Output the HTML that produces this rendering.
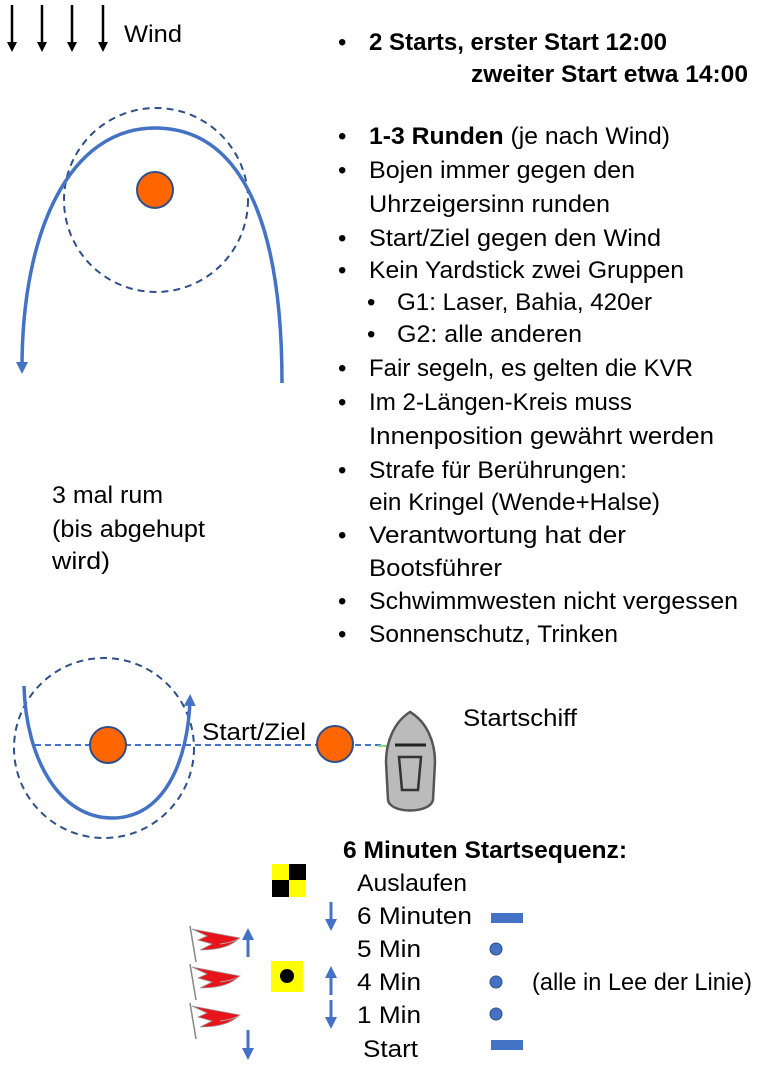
<!DOCTYPE html>
<html><head><meta charset="utf-8"><style>
body{margin:0;background:#fff}
svg{display:block}
text{font-family:"Liberation Sans",sans-serif;font-size:24px;fill:#000}
.b{font-weight:bold}
</style></head><body>
<svg width="782" height="1080" viewBox="0 0 782 1080" xmlns="http://www.w3.org/2000/svg">
<defs>
<marker id="ab" markerWidth="10" markerHeight="10" refX="5" refY="5" orient="auto" markerUnits="userSpaceOnUse"><path d="M0,0 L10,5 L0,10 z" fill="#000"/></marker>
<marker id="ah" markerWidth="12" markerHeight="12" refX="6" refY="6" orient="auto" markerUnits="userSpaceOnUse"><path d="M0,0 L12,6 L0,12 z" fill="#4472c4"/></marker>
</defs>
<g stroke="#000" stroke-width="2.5">
<line x1="12" y1="5" x2="12" y2="47" marker-end="url(#ab)"/>
<line x1="42" y1="5" x2="42" y2="47" marker-end="url(#ab)"/>
<line x1="72" y1="5" x2="72" y2="47" marker-end="url(#ab)"/>
<line x1="103" y1="5" x2="103" y2="47" marker-end="url(#ab)"/>
</g>
<text x="124" y="42" textLength="58" lengthAdjust="spacingAndGlyphs">Wind</text>
<circle cx="156" cy="200" r="92" fill="none" stroke="#2f4f8a" stroke-width="2" stroke-dasharray="7,5"/>
<circle cx="155" cy="190" r="18" fill="#ff6600" stroke="#2f4f8a" stroke-width="2"/>
<path d="M282,383 C282,210 235,128 155,128 C70,128 22,230 22,368" fill="none" stroke="#4472c4" stroke-width="3.5" marker-end="url(#ah)"/>
<text x="52" y="503" textLength="111" lengthAdjust="spacingAndGlyphs">3 mal rum</text>
<text x="52" y="537" textLength="153" lengthAdjust="spacingAndGlyphs">(bis abgehupt</text>
<text x="52" y="569" textLength="58" lengthAdjust="spacingAndGlyphs">wird)</text>
<g>
<text x="338" y="50">•</text><text x="369" y="50" class="b" textLength="298" lengthAdjust="spacingAndGlyphs">2 Starts, erster Start 12:00</text>
<text x="471" y="82" class="b" textLength="277" lengthAdjust="spacingAndGlyphs">zweiter Start etwa 14:00</text>
<text x="338" y="144">•</text><text x="369" y="144" textLength="301" lengthAdjust="spacingAndGlyphs"><tspan class="b">1-3 Runden</tspan> (je nach Wind)</text>
<text x="338" y="178">•</text><text x="369" y="178" textLength="266" lengthAdjust="spacingAndGlyphs">Bojen immer gegen den</text>
<text x="369" y="212" textLength="241" lengthAdjust="spacingAndGlyphs">Uhrzeigersinn runden</text>
<text x="338" y="246">•</text><text x="369" y="246" textLength="292" lengthAdjust="spacingAndGlyphs">Start/Ziel gegen den Wind</text>
<text x="338" y="278">•</text><text x="369" y="278" textLength="315" lengthAdjust="spacingAndGlyphs">Kein Yardstick zwei Gruppen</text>
<text x="367" y="310">•</text><text x="397" y="310" textLength="255" lengthAdjust="spacingAndGlyphs">G1: Laser, Bahia, 420er</text>
<text x="367" y="342">•</text><text x="397" y="342" textLength="185" lengthAdjust="spacingAndGlyphs">G2: alle anderen</text>
<text x="338" y="376">•</text><text x="369" y="376" textLength="324" lengthAdjust="spacingAndGlyphs">Fair segeln, es gelten die KVR</text>
<text x="338" y="410">•</text><text x="369" y="410" textLength="263" lengthAdjust="spacingAndGlyphs">Im 2-Längen-Kreis muss</text>
<text x="369" y="444" textLength="345" lengthAdjust="spacingAndGlyphs">Innenposition gewährt werden</text>
<text x="338" y="478">•</text><text x="369" y="478" textLength="258" lengthAdjust="spacingAndGlyphs">Strafe für Berührungen:</text>
<text x="369" y="510" textLength="291" lengthAdjust="spacingAndGlyphs">ein Kringel (Wende+Halse)</text>
<text x="338" y="543">•</text><text x="369" y="543" textLength="257" lengthAdjust="spacingAndGlyphs">Verantwortung hat der</text>
<text x="369" y="576" textLength="133" lengthAdjust="spacingAndGlyphs">Bootsführer</text>
<text x="338" y="609">•</text><text x="369" y="609" textLength="369" lengthAdjust="spacingAndGlyphs">Schwimmwesten nicht vergessen</text>
<text x="338" y="642">•</text><text x="369" y="642" textLength="249" lengthAdjust="spacingAndGlyphs">Sonnenschutz, Trinken</text>
</g>
<circle cx="104" cy="748" r="90" fill="none" stroke="#2f4f8a" stroke-width="2" stroke-dasharray="7,5"/>
<line x1="35" y1="745" x2="385" y2="745" stroke="#4472c4" stroke-width="2" stroke-dasharray="6,4"/>
<line x1="378" y1="746" x2="388" y2="746" stroke="#7ee07e" stroke-width="2"/>
<circle cx="108" cy="745" r="18" fill="#ff6600" stroke="#2f4f8a" stroke-width="2"/>
<circle cx="335" cy="744" r="18" fill="#ff6600" stroke="#2f4f8a" stroke-width="2"/>
<path d="M24,686 C26,760 60,818 112,818 C165,818 188,760 190,700" fill="none" stroke="#4472c4" stroke-width="3.5" marker-end="url(#ah)"/>
<text x="202" y="740" textLength="104" lengthAdjust="spacingAndGlyphs">Start/Ziel</text>
<text x="463" y="726" textLength="114" lengthAdjust="spacingAndGlyphs">Startschiff</text>
<path d="M410,712 C394,722 386,742 386,762 L388,800 C390,814 430,814 433,800 L435,762 C435,742 427,722 410,712 z" fill="#bbb" stroke="#555" stroke-width="2.5"/>
<line x1="395" y1="745" x2="426" y2="745" stroke="#222" stroke-width="3"/>
<path d="M399,757 L421,757 L418,790 L402,790 z" fill="none" stroke="#333" stroke-width="2.5"/>
<text x="343" y="858" class="b" textLength="284" lengthAdjust="spacingAndGlyphs">6 Minuten Startsequenz:</text>
<rect x="272" y="864" width="34" height="33" fill="#ffff00"/>
<rect x="289" y="864" width="17" height="16" fill="#000"/>
<rect x="272" y="880" width="17" height="17" fill="#000"/>
<text x="357" y="891" textLength="110" lengthAdjust="spacingAndGlyphs">Auslaufen</text>
<text x="357" y="924" textLength="115" lengthAdjust="spacingAndGlyphs">6 Minuten</text>
<text x="357" y="957" textLength="64" lengthAdjust="spacingAndGlyphs">5 Min</text>
<text x="357" y="990" textLength="64" lengthAdjust="spacingAndGlyphs">4 Min</text>
<text x="357" y="1023" textLength="64" lengthAdjust="spacingAndGlyphs">1 Min</text>
<text x="363" y="1057" textLength="55" lengthAdjust="spacingAndGlyphs">Start</text>
<text x="532" y="990" textLength="220" lengthAdjust="spacingAndGlyphs">(alle in Lee der Linie)</text>
<rect x="491" y="913" width="32" height="10" fill="#4472c4"/>
<rect x="491" y="1040" width="32" height="10" fill="#4472c4"/>
<circle cx="496" cy="949" r="6" fill="#4472c4" stroke="#2f4f8a"/>
<circle cx="496" cy="982" r="6" fill="#4472c4" stroke="#2f4f8a"/>
<circle cx="496" cy="1014" r="6" fill="#4472c4" stroke="#2f4f8a"/>
<g stroke="#4472c4" stroke-width="3">
<line x1="331" y1="902" x2="331" y2="925" marker-end="url(#ah)"/>
<line x1="331" y1="995" x2="331" y2="972" marker-end="url(#ah)"/>
<line x1="331" y1="1000" x2="331" y2="1023" marker-end="url(#ah)"/>
<line x1="248" y1="957" x2="248" y2="934" marker-end="url(#ah)"/>
<line x1="248" y1="1030" x2="248" y2="1054" marker-end="url(#ah)"/>
</g>
<rect x="271" y="961" width="32" height="31" fill="#ffff00"/>
<circle cx="287" cy="976" r="7" fill="#000"/>
<g>
<g id="fl"><line x1="190" y1="926" x2="196" y2="962" stroke="#888" stroke-width="1.5"/>
<path d="M192,929 L240,938 C232,945 222,950 200,950 L212,944 L198,940 L207,936 z" fill="#e8141c" stroke="#999" stroke-width="0.8"/>
<path d="M220,944 C228,943 236,941 240,938" fill="none" stroke="#aaa" stroke-width="1"/></g>
<use href="#fl" y="38"/>
<use href="#fl" y="77"/>
</g>
</svg>
</body></html>
